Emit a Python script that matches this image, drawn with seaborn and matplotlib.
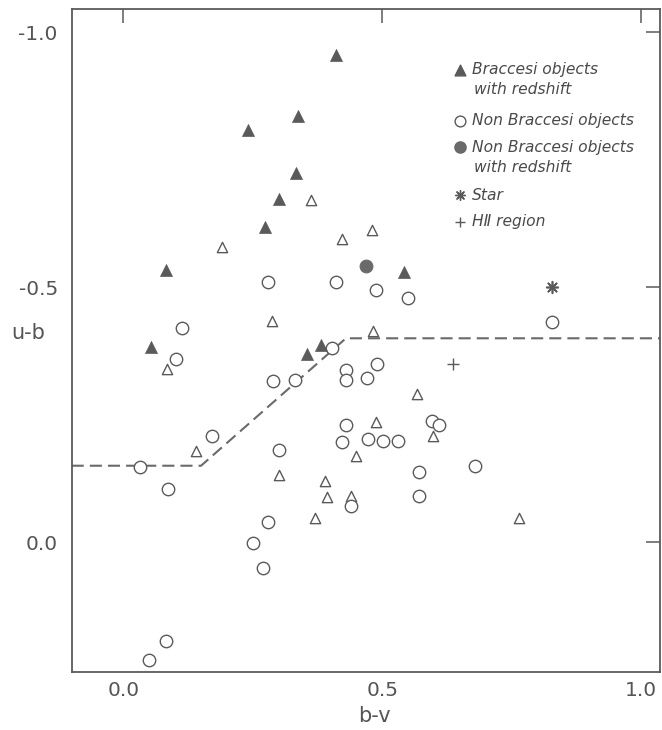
import numpy as np
import pandas as pd
import seaborn as sns
import matplotlib.pyplot as plt

# Braccesi objects with redshift (filled triangles)
brac_z_bv = [0.411, 0.338, 0.240, 0.334, 0.301, 0.274, 0.082, 0.053, 0.355, 0.381, 0.542]
brac_z_ub = [-0.956, -0.837, -0.809, -0.724, -0.673, -0.619, -0.533, -0.383, -0.369, -0.387, -0.531]

# Braccesi objects without redshift (open triangles)
brac_bv = [0.362, 0.191, 0.422, 0.481, 0.288, 0.085, 0.140, 0.301, 0.449, 0.390,
           0.393, 0.440, 0.482, 0.567, 0.488, 0.598, 0.370, 0.764]
brac_ub = [-0.672, -0.579, -0.595, -0.613, -0.434, -0.340, -0.179, -0.131, -0.169, -0.121,
           -0.088, -0.091, -0.415, -0.290, -0.235, -0.209, -0.048, -0.048]

# Non Braccesi objects (open circles)
nonbrac_bv = [0.280, 0.411, 0.113, 0.102, 0.290, 0.332, 0.403, 0.430, 0.430, 0.171,
              0.032, 0.086, 0.300, 0.430, 0.422, 0.440, 0.488, 0.549, 0.829, 0.490,
              0.470, 0.473, 0.501, 0.531, 0.596, 0.610, 0.679, 0.571, 0.571, 0.279,
              0.250, 0.270, 0.082, 0.050]
nonbrac_ub = [-0.510, -0.510, -0.420, -0.360, -0.317, -0.318, -0.381, -0.338, -0.318, -0.209,
              -0.148, -0.104, -0.180, -0.229, -0.197, -0.071, -0.494, -0.479, -0.431, -0.350,
              -0.322, -0.203, -0.199, -0.199, -0.238, -0.230, -0.150, -0.137, -0.090, -0.039,
              0.001, 0.051, 0.194, 0.232]

# Non Braccesi objects with redshift (filled circle)
nonbrac_z_bv = [0.469]
nonbrac_z_ub = [-0.542]

# Star and HII region
star_bv, star_ub = [0.829], [-0.500]
hii_bv, hii_ub = [0.637], [-0.350]

# dashed separation line
sep_bv = [-0.10, 0.15, 0.43, 1.04]
sep_ub = [-0.15, -0.15, -0.40, -0.40]

grey = "#5a5a5a"
txt = "#555555"

sns.set_theme(style="white")
plt.rcParams['font.family'] = ['DejaVu Sans']

fig = plt.figure(figsize=(6.62, 7.3), dpi=100)
ax = fig.add_axes([0.1083, 0.0799, 0.8887, 0.9078])

sns.lineplot(x=sep_bv, y=sep_ub, sort=False, ax=ax, color="#6a6a6a",
             linewidth=1.5, dashes=False, linestyle=(0, (5.8, 2.9)))

sns.scatterplot(x=brac_bv, y=brac_ub, ax=ax, marker="^", s=55,
                facecolor="white", edgecolor=grey, linewidth=1.0, zorder=3)
sns.scatterplot(x=nonbrac_bv, y=nonbrac_ub, ax=ax, marker="o", s=80,
                facecolor="white", edgecolor=grey, linewidth=1.0, zorder=3)
sns.scatterplot(x=brac_z_bv, y=brac_z_ub, ax=ax, marker="^", s=75,
                color=grey, edgecolor=grey, linewidth=0.5, zorder=4)
sns.scatterplot(x=nonbrac_z_bv, y=nonbrac_z_ub, ax=ax, marker="o", s=85,
                color="#6a6a6a", edgecolor="#6a6a6a", zorder=4)
sns.scatterplot(x=star_bv, y=star_ub, ax=ax, marker=(8, 2, 0), s=70,
                color=grey, edgecolor=grey, linewidth=1.2, zorder=4)
sns.scatterplot(x=hii_bv, y=hii_ub, ax=ax, marker="+", s=70,
                color=grey, linewidth=1.0, zorder=4)

ax.set_xlim(-0.1, 1.037)
ax.set_ylim(0.254, -1.046)
ax.set_xticks([0.0, 0.5, 1.0])
ax.set_xticklabels(["0.0", "0.5", "1.0"])
ax.set_yticks([-1.0, -0.5, 0.0])
ax.set_yticklabels(["-1.0", "-0.5", "0.0"])
ax.tick_params(direction="in", length=10, width=1.1, color=grey,
               top=True, right=True, labelsize=14.5, labelcolor=txt)
ax.tick_params(axis="y", pad=10)
ax.tick_params(axis="x", pad=7)
for sp in ax.spines.values():
    sp.set_color(grey)
    sp.set_linewidth(1.3)
ax.set_xlabel("b-v", fontsize=15, color=txt, va="top")
ax.xaxis.set_label_coords(0.514, -0.052)
ax.set_ylabel("u-b", fontsize=15, color=txt, rotation=0, va="center", ha="center")
ax.yaxis.set_label_coords(-0.074, 0.511)

# hand-drawn legend block in the upper right
leg = [
    ("^", grey, grey, 60, ["Braccesi objects", "with redshift"], 0.908),
    ("o", "white", grey, 60, ["Non Braccesi objects"], 0.831),
    ("o", "#6a6a6a", "#6a6a6a", 65, ["Non Braccesi objects", "with redshift"], 0.791),
    ((8, 2, 0), grey, grey, 50, ["Star"], 0.719),
    ("+", grey, grey, 60, ["H\u2161 region"], 0.679),
]
for mk, fc, ec, sz, lines, yy in leg:
    ax.scatter([0.660], [yy], marker=mk, s=sz, facecolor=fc, edgecolor=ec,
               linewidth=1.0, transform=ax.transAxes, clip_on=False, zorder=5)
    for i, line in enumerate(lines):
        ax.text(0.680 + 0.003 * i, yy - 0.0295 * i, line, transform=ax.transAxes,
                fontsize=11.2, style="italic", color="#4a4a4a", va="center", ha="left")

fig.savefig("out.png", dpi=100)
